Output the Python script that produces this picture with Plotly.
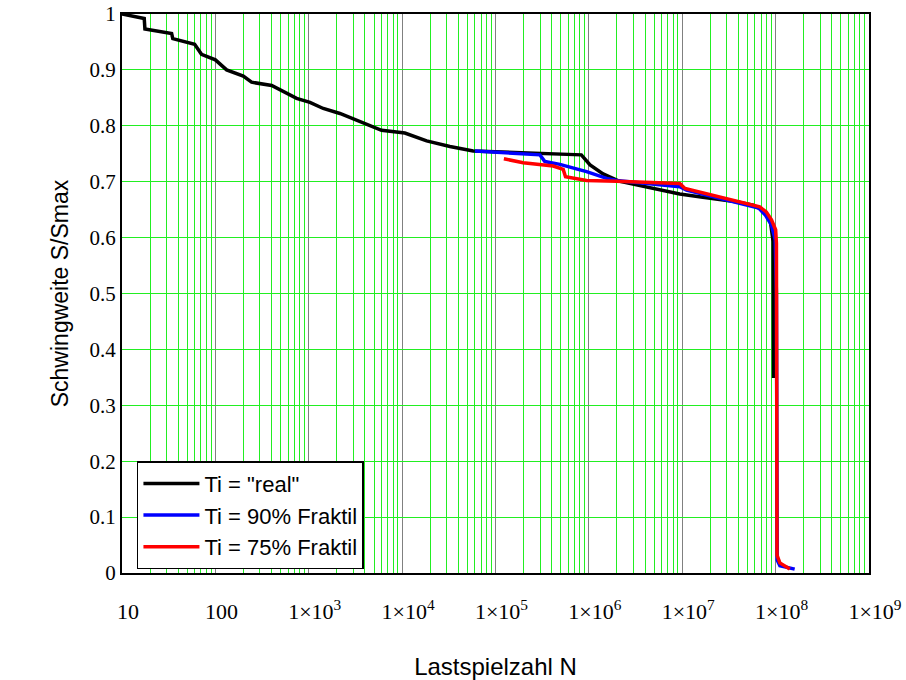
import plotly.graph_objects as go

# ---- data ----
real_N = [10, 17.3, 17.6, 34, 35, 60, 71, 100, 132, 199, 244, 401, 741, 1030, 1430,
          2157, 6020, 10700, 18300, 32500, 57700, 8.3e5, 1.03e6, 1.42e6, 2.1e6,
          9.4e6, 1.66e7, 3.8e7, 5.75e7, 7.3e7, 8.7e7, 9.4e7, 9.5e7]
real_S = [1.0, 0.992, 0.973, 0.965, 0.956, 0.946, 0.928, 0.918, 0.900, 0.889, 0.878,
          0.872, 0.849, 0.842, 0.831, 0.822, 0.792, 0.787, 0.773, 0.763, 0.755,
          0.748, 0.730, 0.714, 0.701, 0.678, 0.672, 0.664, 0.658, 0.649, 0.634,
          0.593, 0.349]

f90_N = [6.01e4, 2.99e5, 3.38e5, 4.89e5, 9.44e5, 1.55e6, 1.98e6, 9.4e6, 1.11e7,
         3.8e7, 6.6e7, 7.8e7, 9.0e7, 9.9e7, 1.02e8, 1.04e8, 1.11e8, 1.6e8]
f90_S = [0.755, 0.748, 0.736, 0.731, 0.718, 0.706, 0.702, 0.691, 0.685,
         0.664, 0.653, 0.640, 0.623, 0.596, 0.500, 0.023, 0.013, 0.007]

f75_N = [1.23e5, 1.98e5, 4.15e5, 5.31e5, 5.62e5, 9.44e5, 1.98e6, 9.4e6, 1.07e7,
         3.8e7, 6.76e7, 7.94e7, 9.03e7, 1.0e8, 1.02e8, 1.035e8, 1.11e8, 1.42e8]
f75_S = [0.741, 0.734, 0.728, 0.722, 0.709, 0.702, 0.701, 0.697, 0.688,
         0.666, 0.655, 0.646, 0.632, 0.614, 0.590, 0.032, 0.018, 0.007]

series_names = ['Ti = "real"', 'Ti = 90% Fraktil', 'Ti = 75% Fraktil']
series_colors = ["#000000", "#0000ff", "#ff0000"]

x_tickvals = [1e1, 1e2, 1e3, 1e4, 1e5, 1e6, 1e7, 1e8, 1e9]
x_ticktext = ["10", "100", "1×10<sup>3</sup>", "1×10<sup>4</sup>", "1×10<sup>5</sup>",
              "1×10<sup>6</sup>", "1×10<sup>7</sup>", "1×10<sup>8</sup>", "1×10<sup>9</sup>"]
x_minor_vals = [m * d for d in x_tickvals[:-1] for m in range(2, 10)]
y_tickvals = [0, 0.1, 0.2, 0.3, 0.4, 0.5, 0.6, 0.7, 0.8, 0.9, 1]
y_ticktext = ["0", "0.1", "0.2", "0.3", "0.4", "0.5", "0.6", "0.7", "0.8", "0.9", "1"]

x_title = "Lastspielzahl N"
y_title = "Schwingweite S/Smax"

fig = go.Figure()
for xs, ys, name, col in zip([real_N, f90_N, f75_N], [real_S, f90_S, f75_S],
                             series_names, series_colors):
    fig.add_trace(go.Scatter(x=xs, y=ys, mode="lines", name=name,
                             line=dict(color=col, width=3.5)))

serif = "Liberation Serif"
sans = "Liberation Sans"
green = "#22ee22"

fig.update_layout(
    width=906, height=680,
    margin=dict(l=122, r=37, t=14, b=107, autoexpand=False),
    paper_bgcolor="white", plot_bgcolor="white",
    showlegend=True,
    legend=dict(x=0.02, y=0.2, xanchor="left", yanchor="top",
                bgcolor="white", bordercolor="black", borderwidth=1.5,
                font=dict(family=sans, size=22, color="black"),
                itemwidth=56, tracegroupgap=0),
    xaxis=dict(
        type="log", range=[1, 9],
        tickmode="array", tickvals=x_tickvals, ticktext=x_ticktext,
        tickfont=dict(family=serif, size=22, color="black"),
        ticks="", ticklabelstandoff=18, ticklabelshift=6,
        showgrid=True, gridcolor="#808080", gridwidth=1,
        minor=dict(tickmode="array", tickvals=x_minor_vals, ticks="",
                   showgrid=True, gridcolor=green, gridwidth=1),
        showline=True, linecolor="black", linewidth=2, mirror=True,
        zeroline=False,
        title=dict(text=x_title, font=dict(family=sans, size=24, color="black"), standoff=36),
    ),
    yaxis=dict(
        range=[0, 1],
        tickmode="array", tickvals=y_tickvals, ticktext=y_ticktext,
        tickfont=dict(family=serif, size=21, color="black"),
        ticks="",
        showgrid=True, gridcolor=green, gridwidth=1,
        showline=True, linecolor="black", linewidth=2, mirror=True,
        zeroline=False,
        title=dict(text=y_title, font=dict(family=sans, size=23, color="black"), standoff=14),
    ),
)

fig.write_html("out.html")
